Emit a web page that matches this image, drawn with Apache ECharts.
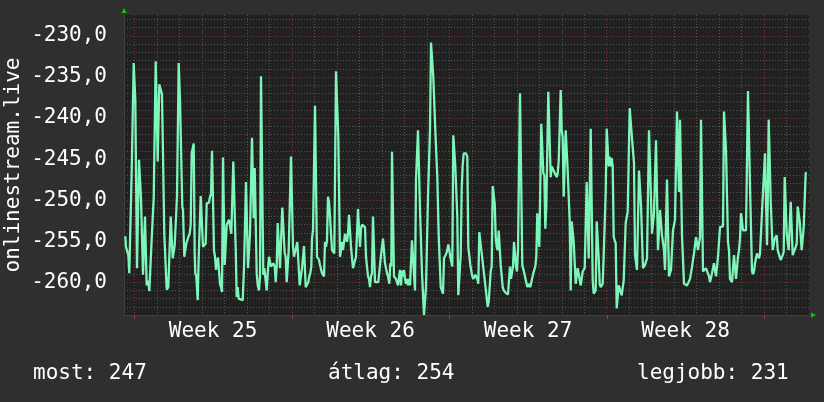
<!DOCTYPE html>
<html>
<head>
<meta charset="utf-8">
<script src="https://cdn.jsdelivr.net/npm/echarts@6/dist/echarts.min.js"></script>
<style>
  html, body { margin: 0; padding: 0; background: #2f2f2f; }
  #chart { width: 824px; height: 402px; }
</style>
</head>
<body>
<div id="chart"></div>
<script>
// x: 64-minute slots counted from the left edge of the graph (week 25 starts at slot 10.3)
// y: measured value
const seg1 = [[1.3,-254.4],[2,-255.7],[3.3,-255.9],[4.3,-256.7],[5.3,-258.9],[7,-258.9],[7.7,-246.5],[8.7,-246.5],[9.7,-233.3],[10.7,-233.3],[11.3,-237.8],[12.3,-237.9],[13,-258.3],[14.3,-258.3],[15,-245.1],[16.3,-245.1],[17,-249.8],[18,-250.0],[19,-259.1],[20,-259.1],[21,-252.0],[21.7,-252.0],[22.7,-260.4],[24.3,-259.8],[25.3,-261.1],[26.7,-261.2],[27.7,-254.7],[28.7,-254.5],[29.7,-249.8],[30.7,-249.6],[31.7,-233.1],[33,-233.1],[33.7,-245.3],[34.7,-245.3],[35.3,-235.9],[37,-236.0],[38,-237.1],[39,-237.2],[40.3,-254.1],[41.7,-254.3],[42.7,-260.9],[44.3,-260.6],[46,-260.6],[46.7,-252.0],[48,-252.0],[48.7,-257.1],[50,-257.1],[50.7,-255.5],[52,-255.7],[53,-249.6],[54,-249.4],[54.7,-233.3],[56,-237.8],[57,-237.8],[58.3,-250.8],[59,-251.2],[60.3,-256.9],[61.3,-256.9],[62.3,-255.3],[63.3,-255.3],[64.3,-254.5],[65.7,-254.1],[66.7,-253.0],[67.7,-244.3],[68.7,-244.1],[69.7,-243.1],[70.7,-256.5],[71.3,-258.9],[72.3,-259.3],[73.7,-262.2],[74.7,-256.9],[75.7,-256.7],[76.7,-249.5],[78,-249.6],[79,-255.7],[80.7,-255.6],[81.7,-255.3],[82.7,-250.4],[84,-250.6],[85,-250.3],[86,-249.6],[87,-249.2],[88,-244.0],[89,-244.0],[90,-256.1],[91,-256.9],[92,-258.5],[93,-258.5],[94,-257.0],[95,-257.1],[96,-260.2],[97,-260.6],[98,-261.2],[99,-244.8],[100,-244.9],[100.7,-257.9],[102,-257.9],[102.7,-253.0],[104,-252.9],[105,-252.4],[106.3,-252.6],[107.3,-254.1],[108.3,-254.1],[109.3,-245.3],[110.3,-245.3],[111.7,-255.9],[112.7,-261.8],[113.7,-260.6],[114.7,-262.0],[115.7,-261.8],[116.7,-262.2],[118.7,-262.2],[120,-258.3],[121,-258.1],[122,-247.8],[123,-248.0],[124,-258.3],[125,-258.3],[126,-254.1],[127,-254.3],[128,-242.4],[129,-242.5],[129.7,-252.2],[130.7,-246.1],[132,-246.1],[132.7,-258.9],[133.7,-260.4],[135,-261.0],[136,-259.3],[137,-234.9],[138.3,-235.0],[139.3,-259.1],[140.3,-258.3],[141.7,-258.1],[142.7,-261.0],[143.7,-258.9],[145,-256.9],[146,-257.1],[147,-258.1],[148,-257.9],[149.3,-257.7],[150.7,-258.1],[151.7,-260.0],[152.7,-258.1],[153.7,-252.8],[155,-252.8],[156,-258.3],[157.3,-258.1],[158.3,-250.9],[159.7,-251.0],[160.7,-256.5],[161.7,-256.9],[162.7,-260.0],[163.7,-260.0],[164.7,-256.1],[166,-256.1],[167,-244.7],[168,-244.8],[169,-255.7],[170,-256.9]];
const seg2 = [[172,-257.0],[173.3,-255.1],[174.7,-255.2],[175.7,-260.4],[177,-260.4],[178,-258.3],[179,-258.3],[180,-255.6],[181,-255.6],[181.7,-260.6],[183.3,-260.6],[184.3,-260.0],[185.3,-259.3],[186.3,-258.9],[187.3,-258.1],[188,-254.7],[189,-253.7],[190,-253.7],[191,-238.5],[192,-238.5],[193,-256.9],[194,-257.1],[195,-257.3],[196,-257.9],[197,-258.1],[198,-258.9],[199,-259.1],[200,-259.3],[201,-255.1],[202,-255.7],[203,-254.9],[204,-249.6],[205,-250.2],[206,-252.0],[207,-252.2],[208,-256.1],[209.3,-256.3],[210.3,-256.5],[211,-256.5],[212,-234.3],[213.3,-234.3],[214.3,-242.3],[215.3,-242.5],[216,-256.9],[217,-256.1],[218,-255.1],[219,-256.1],[220,-255.1],[221,-254.1],[222,-254.3],[223,-255.1],[224,-254.1],[225,-251.8],[226,-251.8],[227,-255.7],[228,-255.5],[229,-258.3],[231,-258.3],[232,-256.9],[233,-254.1],[234,-251.1],[235,-251.2],[236,-255.7],[237,-253.5],[238,-253.0],[239,-253.0],[240,-252.8],[241,-253.3],[242,-256.9],[243,-258.1],[244,-259.3],[245,-259.6],[246,-260.6],[247,-259.3],[248,-258.9],[249,-252.0],[250,-252.0],[251,-260.0],[252.7,-260.0],[254.3,-260.0],[256,-260.2],[257,-256.7],[258,-255.7],[259,-254.7],[260,-254.7],[261,-257.7],[262,-258.3],[263,-258.9],[264,-259.3],[265.3,-260.2],[266.3,-257.7],[267.3,-258.1],[268,-244.1],[269,-244.2],[270,-259.3],[271,-259.3],[272,-259.6],[273,-259.6],[274,-260.4],[275,-260.4],[276,-258.5],[277,-260.4],[278,-258.6],[279,-259.3],[280,-258.5],[281,-259.6],[282,-260.2],[283,-259.6],[284,-260.4],[285,-259.6],[286,-260.4],[287,-260.4],[288,-254.9],[290,-254.9],[291,-261.0],[292,-247.5],[293,-247.5],[294,-241.5],[295,-241.5],[296,-251.2],[297,-251.2],[298,-258.9],[299,-258.9],[300,-264.0],[301,-263.8],[302,-260.6],[303,-260.6],[304,-249.6],[305,-249.6],[306,-241.5],[307,-230.8],[308.3,-230.8],[309.3,-235.0],[310.3,-235.2],[311.3,-241.5],[312.3,-241.5],[313.3,-247.2],[314.7,-254.3],[315.7,-254.5],[316.7,-260.6],[318,-260.8],[319,-261.4],[320,-257.1],[321.3,-256.9],[322.3,-256.5],[323.3,-256.1],[324.3,-255.4],[325.3,-256.1],[326.3,-256.9],[327.3,-256.7],[328.3,-258.1],[329.3,-242.1],[330.3,-242.1],[331.3,-245.9],[332.3,-245.9],[333.3,-252.0],[334.3,-261.6],[335.7,-261.6],[336.7,-256.7],[337.7,-248.6],[338.7,-245.7],[339.7,-244.3]];
const seg3 = [[342,-244.3],[343.3,-244.7],[344.3,-255.7],[345.3,-255.9],[346.3,-257.9],[347.3,-258.1],[348.3,-259.3],[349.3,-259.6],[350.3,-259.8],[351.3,-259.1],[352.3,-259.3],[353.3,-259.6],[354.3,-260.2],[355.3,-253.9],[356.7,-253.9],[357.7,-256.5],[359,-256.5],[361.7,-260.8],[362.7,-260.8],[363.7,-263.0],[364.7,-262.4],[365.7,-262.2],[366.7,-258.7],[367.7,-258.1],[368.7,-248.3],[369.7,-248.4],[370.7,-250.4],[371.7,-254.5],[372.7,-255.7],[373.7,-256.1],[374.7,-253.7],[375.7,-253.7],[376.7,-257.9],[377.7,-258.1],[378.7,-260.6],[379.7,-261.0],[380.7,-261.2],[381.7,-261.3],[382.7,-261.4],[384,-261.5],[385,-261.4],[386,-258.1],[387,-259.6],[388,-259.6],[389,-258.1],[390,-255.1],[391,-255.3],[392,-258.1],[393,-258.7],[394,-256.1],[395,-256.1],[396,-237.0],[397.3,-237.0],[398.3,-257.9],[399.3,-258.1],[400.3,-258.9],[402.3,-258.9],[403.3,-260.6],[404.3,-260.2],[405.3,-260.2],[406.3,-260.6],[407.3,-260.6],[408.3,-260.8],[409.3,-258.9],[410.3,-258.9],[411.3,-258.1],[412.3,-256.9],[413.3,-251.6],[414.3,-251.6],[415.3,-255.7],[416.3,-255.7],[417.3,-240.7],[418.3,-240.9],[419.3,-246.7],[420.3,-247.0],[421.3,-253.5],[422.3,-250.8],[423.3,-250.8],[424.3,-236.8],[425.7,-236.8],[426.7,-247.2],[427.7,-245.9],[428.7,-245.9],[429.7,-246.1],[430.7,-246.7],[431.7,-246.5],[432.7,-247.2],[433.7,-246.7],[434.7,-245.3],[435.7,-245.3],[436.7,-236.6],[437.7,-241.5],[438.7,-242.3],[439.7,-249.6],[440.7,-249.8],[441.7,-241.5],[442.7,-241.5],[443.7,-246.5],[444.7,-246.5],[445.7,-252.6],[446.7,-261.0],[447.7,-252.6],[448.7,-252.8],[449.7,-255.1],[450.7,-255.3],[451.7,-260.2],[452.7,-260.2],[453.7,-258.3],[454.7,-258.3],[455.7,-258.1],[456.7,-260.4],[457.7,-260.4],[458.7,-258.7],[459.7,-258.7],[460.7,-258.3],[461.7,-258.3],[462.7,-247.8],[463.7,-248.0],[464.7,-257.1],[465.7,-257.1],[466.7,-241.3],[467.7,-241.3],[468.7,-259.8],[469.7,-261.4],[470.7,-261.4],[471.7,-261.0],[472.7,-252.6],[473.7,-252.8],[474.7,-257.1],[475.7,-260.2],[476.7,-260.6],[477.7,-260.6],[478.7,-260.2],[479.7,-256.7],[480.7,-256.5],[481.7,-249.0],[482.7,-241.3],[483.7,-241.3],[484.7,-245.9],[485.7,-244.7],[486.7,-245.9],[487.7,-244.9],[488.7,-245.9],[489.7,-254.5],[490.7,-254.5],[491.7,-255.3],[492.7,-263.2],[493.7,-263.0],[494.7,-260.4],[495.7,-260.4],[496.7,-260.6],[497.7,-261.6],[498.7,-261.6],[499.7,-259.8],[500.7,-259.6],[501.7,-252.8],[502.7,-252.6],[503.7,-251.4],[504.7,-251.2],[505.7,-238.8]];
const seg4 = [[507.3,-238.7],[508,-242.5],[509,-242.5],[510,-245.5],[511,-256.7],[512,-256.9],[513,-258.5],[514,-258.5],[515,-246.4],[516,-246.4],[517,-250.6],[518,-250.6],[519,-258.3],[520,-258.3],[521,-257.9],[522,-257.7],[523,-257.1],[524,-256.9],[525,-241.5],[527,-241.5],[528,-254.1],[529,-254.1],[530,-251.6],[531,-251.6],[532,-242.7],[533,-242.7],[534,-256.1],[535,-256.1],[536,-251.2],[537,-251.2],[538,-254.3],[539,-254.5],[540,-256.1],[541,-258.5],[542,-258.5],[543,-247.5],[544,-247.5],[545,-259.3],[546,-259.3],[547,-258.5],[548,-258.5],[549,-253.7],[550,-253.7],[551,-252.4],[552,-252.4],[553,-239.2],[554,-239.2],[555,-249.0],[556,-240.2],[557,-240.2],[558,-254.3],[559,-254.3],[560,-260.2],[562,-260.2],[563,-260.4],[564,-260.6],[565,-260.6],[566,-259.6],[567,-258.9],[568,-258.1],[569,-258.1],[570,-256.5],[571,-256.5],[572,-254.5],[573,-254.5],[574,-256.1],[575,-256.1],[576,-254.5],[577,-240.2],[578,-240.2],[579,-258.7],[580,-258.7],[581,-258.5],[582,-258.3],[583,-258.5],[584,-258.3],[585,-259.3],[586,-260.0],[587,-260.0],[588,-258.9],[589,-258.9],[590,-257.7],[591,-257.7],[592,-259.3],[593,-259.3],[594,-256.9],[595,-256.9],[596,-253.3],[599,-253.2],[600,-239.2],[601,-239.2],[602,-243.9],[603,-243.9],[604,-255.1],[605,-256.1],[606,-259.6],[607,-259.8],[608,-260.0],[609,-260.0],[610,-256.7],[611,-256.7],[612,-259.6],[613,-259.6],[614,-256.9],[615,-256.1],[616,-254.7],[617,-251.6],[618,-251.6],[619,-253.7],[620,-253.9],[622,-253.7],[623,-253.7],[624,-236.7],[625,-236.7],[626,-248.2],[627,-248.2],[628,-258.7],[629,-259.0],[630,-258.7],[631,-257.7],[632,-257.7],[633,-256.5],[634,-256.5],[635,-257.1],[636,-256.5],[637,-256.3],[638,-256.5],[639,-249.0],[640,-248.8],[641,-244.3],[642,-244.3],[643,-255.5],[643.7,-250.4],[644.7,-240.2],[645.7,-240.4],[646.7,-250.2],[647.7,-250.2],[648.7,-256.1],[649.7,-256.1],[650.7,-254.7],[651.7,-254.5],[652.7,-254.3],[653.7,-256.1],[654.7,-256.5],[655.7,-256.9],[656.7,-257.3],[657.7,-257.3],[658.7,-256.7],[659.7,-256.3],[660.7,-247.2],[661.7,-247.4],[662.7,-254.1],[663.7,-254.1],[664.7,-256.1],[665.7,-256.1],[666.7,-250.2],[667.7,-250.3],[668.7,-256.7],[669.7,-256.7],[670.7,-256.5],[671.7,-255.7],[672.7,-255.3],[673.7,-250.8],[674.7,-251.0],[675.7,-252.6],[676.7,-252.8],[677.7,-256.1],[678.7,-256.1],[679.7,-253.3],[680.7,-253.3],[681.7,-246.7],[682.7,-246.7]];

const weeks = ['Week 25', 'Week 26', 'Week 27', 'Week 28'];
const yTitle = 'onlinestream.live';
const summaryLabels = ['most', 'átlag', 'legjobb'];
const summaryValues = [247, 254, 231];

const mono = '"DejaVu Sans Mono", monospace';
const red = '#7a3232';
const gray = '#545454';
const dotted = [1, 2];

const chart = echarts.init(document.getElementById('chart'), null, { renderer: 'canvas' });

const summaryX = [33, 328, 637];
const summaryText = summaryLabels.map((l, i) => ({
  type: 'text',
  x: summaryX[i],
  y: 374,
  style: { text: l + ': ' + summaryValues[i], fill: '#ffffff', font: '21px ' + mono, verticalAlign: 'middle' }
}));

chart.setOption({
  backgroundColor: '#2f2f2f',
  animation: false,
  grid: [
    { left: 124, right: 15, top: 15, bottom: 87, show: true, backgroundColor: '#212121', borderWidth: 0 },
    { left: 134.3, right: 15, top: 15, bottom: 87 },
    { left: 134.3, right: 59.7, top: 15, bottom: 87 }
  ],
  xAxis: [
    {
      gridIndex: 0, type: 'value', min: 0, max: 685,
      axisLine: { show: true, lineStyle: { color: '#404040' } },
      axisTick: { show: false }, axisLabel: { show: false }, splitLine: { show: false }
    },
    {
      gridIndex: 1, type: 'value', min: 0, max: 29.99, interval: 1,
      axisLine: { show: false }, axisTick: { show: false }, axisLabel: { show: false },
      splitLine: {
        show: true, showMinLine: true, showMaxLine: false,
        lineStyle: { color: [red, gray, gray, gray, gray, gray, gray], type: dotted, width: 1 }
      }
    },
    {
      gridIndex: 2, type: 'category', data: weeks, boundaryGap: true,
      axisLine: { show: false },
      axisTick: { show: true, length: 4, lineStyle: { color: '#a03a3a' } },
      axisLabel: { color: '#ffffff', fontFamily: mono, fontSize: 21, margin: 6 },
      splitLine: { show: false }
    }
  ],
  yAxis: [
    {
      gridIndex: 0, type: 'value', min: -264, max: -227.45, splitNumber: 8,
      axisLine: { show: true, lineStyle: { color: '#404040' } },
      axisTick: { show: false },
      axisLabel: {
        color: '#ffffff', fontFamily: mono, fontSize: 21, margin: 17, padding: [4, 0, 0, 0],
        showMinLabel: false, showMaxLabel: false,
        formatter: v => v.toFixed(1).replace('.', ',')
      },
      splitLine: { show: true, showMinLine: false, showMaxLine: false, lineStyle: { color: red, type: dotted } },
      minorTick: { show: false, splitNumber: 5 },
      minorSplitLine: { show: true, lineStyle: { color: gray, type: dotted } }
    },
    { gridIndex: 1, type: 'value', show: false },
    { gridIndex: 2, type: 'value', show: false }
  ],
  series: [{
    type: 'line',
    xAxisIndex: 0, yAxisIndex: 0,
    data: seg1.concat(seg2, seg3, seg4),
    showSymbol: false,
    lineStyle: { color: '#7ef5b9', width: 2.3 },
    z: 10
  }],
  graphic: [
    {
      type: 'text', x: 13.5, y: 165, rotation: Math.PI / 2,
      style: { text: yTitle, fill: '#ffffff', font: '21px ' + mono, align: 'center', verticalAlign: 'middle' }
    },
    { type: 'polygon', shape: { points: [[121.5, 13], [126.5, 13], [124, 8]] }, style: { fill: '#00cc00' } },
    { type: 'polygon', shape: { points: [[811, 312.5], [811, 317.5], [816, 315]] }, style: { fill: '#00cc00' } }
  ].concat(summaryText)
});
</script>
</body>
</html>
